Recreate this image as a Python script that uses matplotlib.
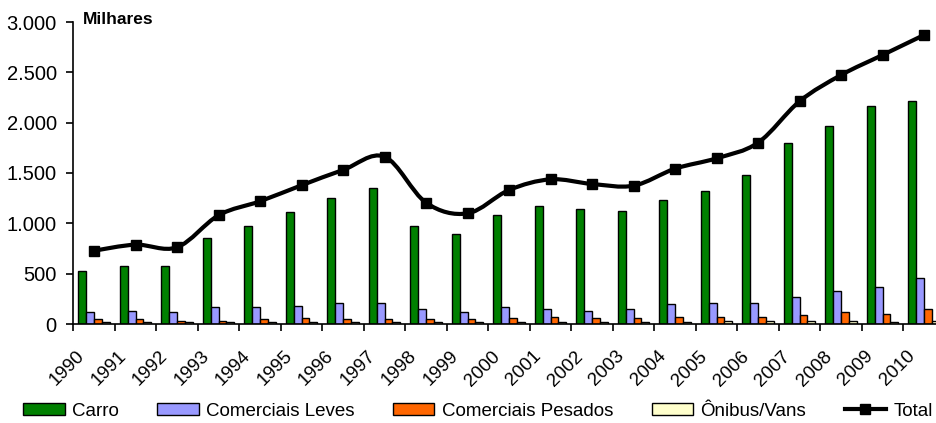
import matplotlib
matplotlib.use('Agg')
import matplotlib.pyplot as plt
import numpy as np
from matplotlib.path import Path
from matplotlib.patches import PathPatch
from matplotlib.lines import Line2D
from matplotlib.ticker import FuncFormatter
from matplotlib.transforms import ScaledTranslation

plt.rcParams['font.family'] = ['Liberation Sans', 'DejaVu Sans']

# valores em milhares de unidades
anos = ['1990', '1991', '1992', '1993', '1994', '1995', '1996', '1997', '1998', '1999', '2000',
        '2001', '2002', '2003', '2004', '2005', '2006', '2007', '2008', '2009', '2010']
carro = [529, 576, 576, 854, 973, 1113, 1248, 1354, 974, 897, 1080,
         1172, 1142, 1126, 1235, 1324, 1480, 1801, 1967, 2166, 2212]
leves = [119, 132, 119, 166, 166, 179, 212, 212, 149, 119, 166,
         149, 132, 146, 196, 212, 212, 271, 331, 365, 454]
pesados = [47, 47, 27, 27, 47, 60, 47, 47, 47, 47, 60,
           73, 57, 57, 73, 73, 73, 89, 116, 102, 149]
onibus = [18, 17, 15, 15, 17, 18, 20, 20, 18, 17, 18,
          20, 20, 20, 22, 25, 25, 33, 30, 20, 33]
total = [728, 788, 762, 1080, 1219, 1378, 1530, 1662, 1205, 1099, 1331,
         1437, 1391, 1374, 1543, 1646, 1801, 2212, 2473, 2672, 2871]

series = [('Carro', carro, '#008000'),
          ('Comerciais Leves', leves, '#9999FF'),
          ('Comerciais Pesados', pesados, '#FF6600'),
          ('Ônibus/Vans', onibus, '#FFFFCC')]

fig = plt.figure(figsize=(9.37, 4.23), dpi=100)
ax = fig.add_axes([73.3 / 937, 1 - 324 / 423, 871.5 / 937, 302 / 423])

x = np.arange(len(anos))
w = 0.19
handles = []
for k, (nome, vals, cor) in enumerate(series):
    b = ax.bar(x + (k - 1.5) * w, vals, w, color=cor, edgecolor='black', linewidth=1.0,
               label=nome, zorder=2)
    handles.append(b)

# linha suavizada (estilo Excel) pelos pontos do total
pts = np.column_stack([x, total]).astype(float)
ext = np.vstack([pts[0], pts, pts[-1]])
verts = [tuple(pts[0])]
codes = [Path.MOVETO]
for i in range(len(pts) - 1):
    p0, p1, p2, p3 = ext[i], ext[i + 1], ext[i + 2], ext[i + 3]
    c1 = p1 + (p2 - p0) / 6
    c2 = p2 - (p3 - p1) / 6
    verts += [tuple(c1), tuple(c2), tuple(p2)]
    codes += [Path.CURVE4] * 3
ax.add_patch(PathPatch(Path(verts, codes), facecolor='none', edgecolor='black',
                       linewidth=3, zorder=3))
ax.plot(x, total, linestyle='none', marker='s', color='black', markersize=6.5, zorder=4)
handles.append(Line2D([], [], color='black', linewidth=3, marker='s', markersize=6.5))

ax.set_xlim(-0.5, len(anos) - 0.5)
ax.set_ylim(0, 3000)
ax.set_yticks(np.arange(0, 3001, 500))
ax.yaxis.set_major_formatter(FuncFormatter(lambda v, _: f'{v:,.0f}'.replace(',', '.')))

ax.set_xticks(np.arange(-0.5, len(anos), 1.0))
ax.set_xticklabels([])
ax.set_xticks(x, labels=anos, minor=True)
ax.tick_params(axis='x', which='major', direction='out', length=5, width=1.2)
ax.tick_params(axis='x', which='minor', length=0, pad=17, labelsize=13.5)
ax.tick_params(axis='y', direction='out', length=5, width=1.2, pad=7, labelsize=14.5)
for lbl in ax.get_xticklabels(minor=True):
    lbl.set_rotation(45)
    lbl.set_ha('right')
    lbl.set_va('top')
    lbl.set_transform(lbl.get_transform() + ScaledTranslation(-0.06, 0, fig.dpi_scale_trans))

for s in ['top', 'right']:
    ax.spines[s].set_visible(False)
ax.spines['left'].set_linewidth(1.2)
ax.spines['bottom'].set_linewidth(1.2)

fig.text(83 / 937, 1 - 20 / 423, 'Milhares', fontsize=12.5, fontweight='bold', va='center', ha='left')

fig.legend(handles, [s[0] for s in series] + ['Total'], loc='center', ncol=5,
           bbox_to_anchor=(478 / 937, 1 - 411 / 423), frameon=False, fontsize=13.5,
           handlelength=2.2, handleheight=0.55, handletextpad=0.4, columnspacing=2.05)

fig.savefig('out.png', dpi=100)
